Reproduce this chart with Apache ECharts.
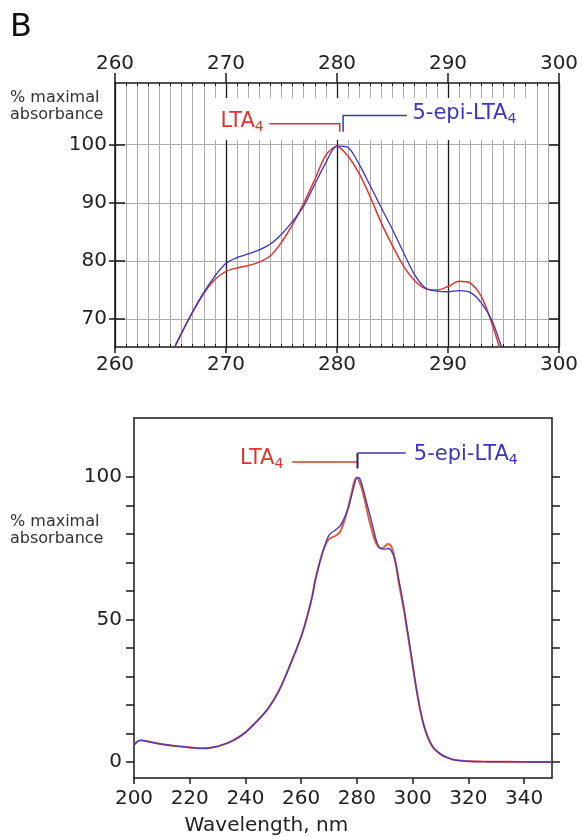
<!DOCTYPE html>
<html>
<head>
<meta charset="utf-8">
<script src="https://cdn.jsdelivr.net/npm/echarts@6/dist/echarts.min.js"></script>
<style>
  html, body { margin: 0; padding: 0; background: #ffffff; }
  #chart { width: 583px; height: 837px; }
</style>
</head>
<body>
<div id="chart"></div>
<script>
// UV absorbance spectra (% of maximal absorbance) of LTA4 and 5-epi-LTA4
const wavelength = [
  200, 201, 202, 203, 205, 208, 212, 216, 220, 224, 228, 232, 236, 240, 244, 248, 252, 256,
  260, 262, 264, 265, 266, 267, 268, 269, 270, 271, 272, 273, 274, 275, 276, 277, 278, 279,
  280, 281, 282, 283, 284, 285, 286, 287, 288, 289, 290, 291, 292, 293, 294, 295, 296, 297,
  298, 299, 300, 301, 302, 303, 304, 305, 306, 307, 308, 310, 312, 314, 316, 320, 325, 330, 340, 350
];
const lta4 = [
  6.0, 7.0, 7.6, 7.6, 7.2, 6.6, 6.0, 5.5, 5.1, 4.8, 5.1, 6.1, 7.8, 10.4, 14.2, 18.6, 25.0, 34.0,
  44.0, 50.5, 58.3, 63.6, 67.6, 71.2, 74.4, 76.8, 78.2, 78.8, 79.2, 79.8, 80.9, 83.2, 86.3, 89.9, 94.0, 98.2,
  99.7, 98.0, 95.0, 91.0, 86.5, 82.6, 79.1, 76.6, 75.2, 75.0, 75.6, 76.5, 76.2, 73.9, 69.0, 63.0, 57.8, 52.5,
  46.3, 40.1, 33.8, 27.5, 21.8, 16.8, 12.8, 9.8, 7.4, 5.6, 4.4, 2.8, 1.7, 1.0, 0.6, 0.3, 0.15, 0.1, 0.05, 0.0
];
const epiLta4 = [
  6.0, 7.0, 7.6, 7.6, 7.2, 6.6, 6.0, 5.5, 5.1, 4.8, 5.1, 6.1, 7.8, 10.4, 14.2, 18.6, 25.0, 34.0,
  44.0, 50.5, 58.3, 63.6, 67.6, 71.3, 74.6, 77.4, 79.6, 80.6, 81.2, 81.9, 82.9, 84.6, 86.8, 89.4, 93.2, 96.9,
  99.8, 99.5, 96.6, 92.9, 89.1, 85.4, 81.4, 77.6, 75.3, 74.8, 74.7, 74.9, 74.6, 72.8, 69.6, 64.2, 58.9, 53.2,
  47.0, 40.6, 34.2, 27.9, 22.1, 17.1, 13.0, 9.9, 7.5, 5.7, 4.4, 2.8, 1.7, 1.0, 0.6, 0.3, 0.15, 0.1, 0.05, 0.0
];

// axis ranges and tick values
const zoomX = [260, 300];
const zoomY = [65.2, 110.6];
const zoomYTicks = [70, 80, 90, 100];
const fullX = [200, 350];
const fullXTicks = [200, 220, 240, 260, 280, 300, 320, 340];
const fullY = [-5.6, 120.7];
const fullYTicks = [0, 10, 20, 30, 40, 50, 60, 70, 80, 90, 100];
const fullYLabels = [0, 50, 100];

const RED = '#e2332f';
const BLUE = '#3b35c0';
const INK = '#1a1a1a';
const GRID_GRAY = '#ababab';
const FONT = 'DejaVu Sans';

const pairs = (ys) => wavelength.map((w, i) => [w, ys[i]]);

const baseLabel = { fontFamily: FONT, fontSize: 20, color: '#222' };
const blackLine = { show: true, onZero: false, lineStyle: { color: INK, width: 1.5 } };
const noLine = { show: false, onZero: false };

const option = {
  animation: false,
  backgroundColor: '#ffffff',
  grid: [
    { left: 115, top: 83, width: 444, height: 264, containLabel: false },
    { left: 134, top: 418, width: 418, height: 360, containLabel: false }
  ],
  xAxis: [
    { // 0: zoom panel, bottom
      type: 'value', gridIndex: 0, position: 'bottom', min: zoomX[0], max: zoomX[1], interval: 10,
      axisLine: blackLine,
      axisTick: { show: true, inside: false, length: 6, lineStyle: { color: INK, width: 1.5 } },
      axisLabel: Object.assign({ margin: 8 }, baseLabel),
      splitLine: { show: true, lineStyle: { color: INK, width: 1.3 } },
      minorTick: { show: false, splitNumber: 10 },
      minorSplitLine: { show: true, lineStyle: { color: GRID_GRAY, width: 1 } }
    },
    { // 1: zoom panel, top
      type: 'value', gridIndex: 0, position: 'top', min: zoomX[0], max: zoomX[1], interval: 10,
      axisLine: blackLine,
      axisTick: { show: true, inside: false, length: 10, lineStyle: { color: INK, width: 1.5 } },
      axisLabel: Object.assign({ margin: 9 }, baseLabel),
      splitLine: { show: false }
    },
    { // 2: zoom panel, top 1-nm ticks
      type: 'value', gridIndex: 0, position: 'top', min: zoomX[0], max: zoomX[1], interval: 1,
      axisLine: noLine,
      axisTick: { show: true, inside: true, length: 3, lineStyle: { color: INK, width: 1 } },
      axisLabel: { show: false }, splitLine: { show: false }
    },
    { // 3: zoom panel, bottom 1-nm ticks
      type: 'value', gridIndex: 0, position: 'bottom', min: zoomX[0], max: zoomX[1], interval: 1,
      axisLine: noLine,
      axisTick: { show: true, inside: true, length: 3, lineStyle: { color: INK, width: 1 } },
      axisLabel: { show: false }, splitLine: { show: false }
    },
    { // 4: full spectrum, bottom
      type: 'value', gridIndex: 1, position: 'bottom', min: fullX[0], max: fullX[1],
      axisLine: blackLine,
      axisTick: { show: true, inside: false, length: 6, customValues: fullXTicks, lineStyle: { color: INK, width: 1.5 } },
      axisLabel: Object.assign({ margin: 11, customValues: fullXTicks }, baseLabel),
      splitLine: { show: false }
    },
    { // 5: full spectrum, top frame
      type: 'value', gridIndex: 1, position: 'top', min: fullX[0], max: fullX[1],
      axisLine: blackLine, axisTick: { show: false }, axisLabel: { show: false }, splitLine: { show: false }
    }
  ],
  yAxis: [
    { // 0: zoom panel, left
      type: 'value', gridIndex: 0, position: 'left', min: zoomY[0], max: zoomY[1],
      axisLine: blackLine,
      axisTick: { show: true, inside: true, length: 10, customValues: zoomYTicks, lineStyle: { color: INK, width: 1.5 } },
      axisLabel: Object.assign({ margin: 8, customValues: zoomYTicks }, baseLabel),
      splitLine: { show: true, lineStyle: { color: GRID_GRAY, width: 1 } }
    },
    { // 1: zoom panel, right
      type: 'value', gridIndex: 0, position: 'right', min: zoomY[0], max: zoomY[1],
      axisLine: blackLine,
      axisTick: { show: true, inside: true, length: 10, customValues: zoomYTicks, lineStyle: { color: INK, width: 1.5 } },
      axisLabel: { show: false }, splitLine: { show: false }
    },
    { // 2: zoom panel, outer stubs of the left ticks
      type: 'value', gridIndex: 0, position: 'left', min: zoomY[0], max: zoomY[1],
      axisLine: noLine,
      axisTick: { show: true, inside: false, length: 6, customValues: zoomYTicks, lineStyle: { color: INK, width: 1.5 } },
      axisLabel: { show: false }, splitLine: { show: false }
    },
    { // 3: full spectrum, left
      type: 'value', gridIndex: 1, position: 'left', min: fullY[0], max: fullY[1],
      axisLine: blackLine,
      axisTick: { show: true, inside: false, length: 8, customValues: fullYTicks, lineStyle: { color: INK, width: 1.5 } },
      axisLabel: Object.assign({ margin: 12, customValues: fullYLabels }, baseLabel),
      splitLine: { show: false }
    },
    { // 4: full spectrum, right
      type: 'value', gridIndex: 1, position: 'right', min: fullY[0], max: fullY[1],
      axisLine: blackLine,
      axisTick: { show: true, inside: false, length: 8, customValues: fullYTicks, lineStyle: { color: INK, width: 1.5 } },
      axisLabel: { show: false }, splitLine: { show: false }
    }
  ],
  series: [
    { name: 'LTA4', type: 'line', xAxisIndex: 0, yAxisIndex: 0, data: pairs(lta4),
      showSymbol: false, smooth: 0.3, clip: true, z: 4, lineStyle: { color: RED, width: 1.5 } },
    { name: '5-epi-LTA4', type: 'line', xAxisIndex: 0, yAxisIndex: 0, data: pairs(epiLta4),
      showSymbol: false, smooth: 0.3, clip: true, z: 5, lineStyle: { color: BLUE, width: 1.3 } },
    { name: 'LTA4', type: 'line', xAxisIndex: 4, yAxisIndex: 3, data: pairs(lta4),
      showSymbol: false, smooth: 0.3, clip: true, z: 4, lineStyle: { color: '#e0603a', width: 2 } },
    { name: '5-epi-LTA4', type: 'line', xAxisIndex: 4, yAxisIndex: 3, data: pairs(epiLta4),
      showSymbol: false, smooth: 0.3, clip: true, z: 5, lineStyle: { color: '#5535b8', width: 1.4 } }
  ]
};

const chart = echarts.init(document.getElementById('chart'), null, { renderer: 'canvas' });
chart.setOption(option);

// annotation helpers
const topPx = (p) => chart.convertToPixel({ xAxisIndex: 0, yAxisIndex: 0 }, p);
const fullPx = (p) => chart.convertToPixel({ xAxisIndex: 4, yAxisIndex: 3 }, p);

function seg(points, color, width) {
  return { type: 'polyline', z: 20, silent: true,
    shape: { points: points }, style: { stroke: color, lineWidth: width, fill: null } };
}
function subLabel(pt, name, color, align) {
  return { type: 'text', z: 20, silent: true, x: pt[0], y: pt[1],
    style: {
      text: '{a|' + name + '}{s|4}', align: align, verticalAlign: 'middle', fill: color,
      rich: {
        a: { fontFamily: FONT, fontSize: 21, fill: color },
        s: { fontFamily: FONT, fontSize: 14, fill: color, padding: [11, 0, 0, 0] }
      }
    } };
}

const boxA = topPx([268.8, 108.0]);
const boxB = topPx([297.6, 100.8]);

const graphics = [
  { type: 'text', left: 10, top: 12, silent: true,
    style: { text: 'B', fontFamily: FONT, fontSize: 32, fill: '#111' } },
  { type: 'text', x: 10, y: 106, silent: true,
    style: { text: '% maximal\nabsorbance', fontFamily: FONT, fontSize: 16, lineHeight: 17,
      verticalAlign: 'middle', fill: '#333' } },
  { type: 'text', x: 10, y: 530, silent: true,
    style: { text: '% maximal\nabsorbance', fontFamily: FONT, fontSize: 16, lineHeight: 17,
      verticalAlign: 'middle', fill: '#333' } },
  { type: 'text', x: fullPx([247.5, 0])[0], y: 826, silent: true,
    style: { text: 'Wavelength, nm', fontFamily: FONT, fontSize: 20, align: 'center',
      verticalAlign: 'middle', fill: '#222' } },

  // zoom panel: label backing and brackets
  { type: 'rect', z: 1, silent: true,
    shape: { x: boxA[0], y: boxA[1], width: boxB[0] - boxA[0], height: boxB[1] - boxA[1] },
    style: { fill: '#ffffff' } },
  seg([topPx([273.9, 103.6]), topPx([280.25, 103.6]), topPx([280.25, 102.2])], RED, 1.5),
  seg([topPx([280.55, 102.2]), topPx([280.55, 105.0]), topPx([286.3, 105.0])], BLUE, 1.5),
  subLabel(topPx([273.4, 104.0]), 'LTA', RED, 'right'),
  subLabel(topPx([286.8, 105.3]), '5-epi-LTA', BLUE, 'left'),

  // full spectrum: brackets
  seg([fullPx([256.8, 105.3]), fullPx([280.0, 105.3])], RED, 1.5),
  seg([fullPx([280.2, 103.0]), fullPx([280.2, 108.4])], '#2a1f5a', 2),
  seg([fullPx([280.2, 108.4]), fullPx([297.5, 108.4])], BLUE, 1.5),
  subLabel(fullPx([253.6, 106.3]), 'LTA', RED, 'right'),
  subLabel(fullPx([300.4, 107.9]), '5-epi-LTA', BLUE, 'left')
];

chart.setOption({ graphic: graphics });
</script>
</body>
</html>
